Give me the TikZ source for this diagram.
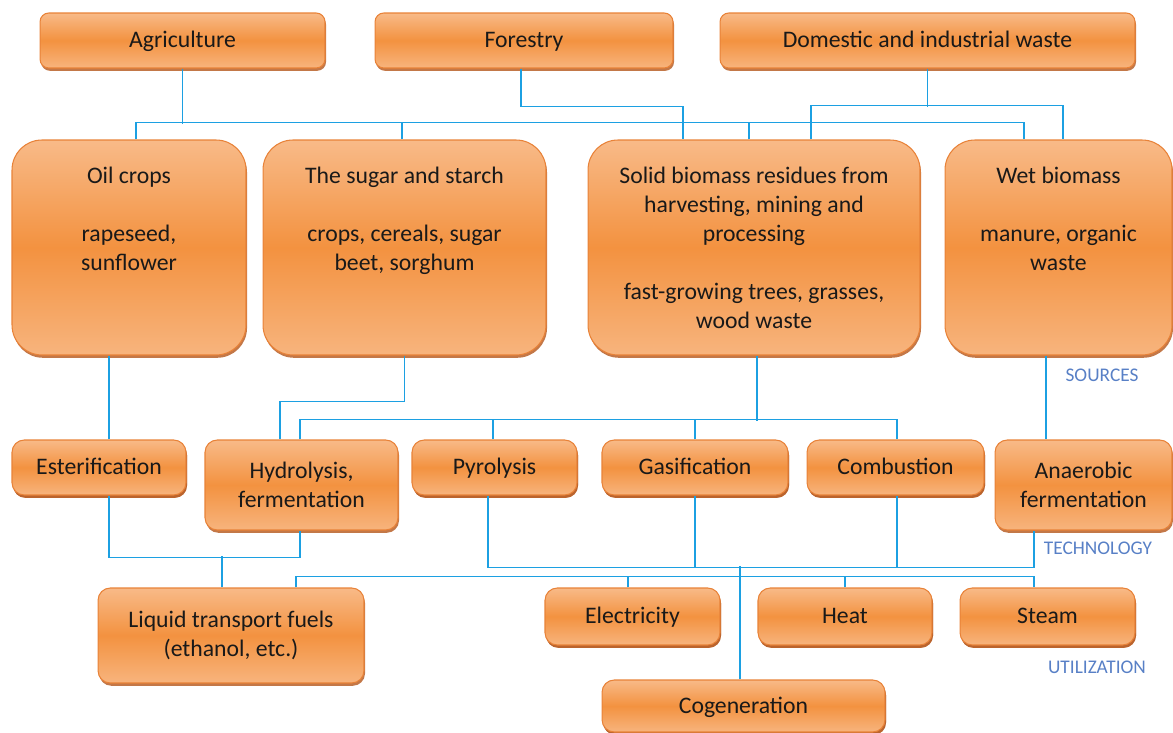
\documentclass[tikz,border=0pt]{standalone}
\usepackage{fontspec}
\setmainfont{Carlito}
\usepackage{tikz}
\usetikzlibrary{shadows}

\definecolor{boxlight}{RGB}{248,186,136}
\definecolor{boxmid}{RGB}{243,146,64}
\definecolor{boxedge}{RGB}{232,130,56}
\definecolor{boxshade}{RGB}{185,96,40}
\definecolor{linkblue}{RGB}{28,160,226}
\definecolor{tagblue}{RGB}{88,128,198}

\tikzset{
  box/.style={draw=boxedge, line width=0.6pt, rounded corners=5pt,
    top color=boxlight, bottom color=boxlight!85!boxmid, middle color=boxmid,
    drop shadow={shadow xshift=0.6pt, shadow yshift=-1.6pt, fill=boxshade, opacity=0.85},
    align=center, inner sep=2pt, text=black!90,
    font=\fontsize{13.5}{16.5}\selectfont},
  onebox/.style={box, text height=2ex, text depth=0.3ex},
  bigbox/.style={box, rounded corners=17pt},
  midbox/.style={box, rounded corners=7pt},
  link/.style={draw=linkblue, line width=0.7pt},
  tag/.style={text=tagblue, font=\fontsize{11}{13}\selectfont}
}

\begin{document}
\begin{tikzpicture}[x=0.02cm, y=-0.02cm]
    \useasboundingbox (0,0) rectangle (1173,733);

    % sources
    \node[onebox, minimum width=5.7cm, minimum height=1.1cm] (agri) at (182.5,40.5) {Agriculture};
    \node[onebox, minimum width=5.96cm, minimum height=1.1cm] (forest) at (524,40.5) {Forestry};
    \node[onebox, minimum width=8.3cm, minimum height=1.1cm] (waste) at (927.5,40.5) {Domestic and industrial waste};

    \node[bigbox, minimum width=4.68cm, minimum height=4.3cm] (oil) at (129,247.5)
      {Oil crops\\~\\rapeseed,\\sunflower\\~\\~};
    \node[bigbox, minimum width=5.66cm, minimum height=4.3cm] (sugar) at (404.5,247.5)
      {The sugar and starch\\~\\crops, cereals, sugar\\beet, sorghum\\~\\~};
    \node[bigbox, minimum width=6.64cm, minimum height=4.3cm] (solid) at (754,247.5)
      {Solid biomass residues from\\harvesting, mining and\\processing\\~\\fast-growing trees, grasses,\\wood waste};
    \node[bigbox, minimum width=4.54cm, minimum height=4.3cm] (wet) at (1058.5,247.5)
      {Wet biomass\\~\\manure, organic\\waste\\~\\~};

    % technology
    \node[onebox, midbox, minimum width=3.48cm, minimum height=1.1cm] (ester) at (99,467.5) {Esterification};
    \node[midbox, minimum width=3.86cm, minimum height=1.8cm] (hydro) at (301.5,485) {Hydrolysis,\\fermentation};
    \node[onebox, midbox, minimum width=3.3cm, minimum height=1.1cm] (pyro) at (494.5,467.5) {Pyrolysis};
    \node[onebox, midbox, minimum width=3.72cm, minimum height=1.1cm] (gasi) at (695,467.5) {Gasification};
    \node[onebox, midbox, minimum width=3.54cm, minimum height=1.1cm] (comb) at (895.5,467.5) {Combustion};
    \node[midbox, minimum width=3.54cm, minimum height=1.8cm] (anaer) at (1083.5,485) {Anaerobic\\fermentation};

    % utilization
    \node[midbox, minimum width=5.32cm, minimum height=1.9cm] (liquid) at (231,635.5) {Liquid transport fuels\\(ethanol, etc.)};
    \node[onebox, midbox, minimum width=3.5cm, minimum height=1.14cm] (elec) at (632.5,616.5) {Electricity};
    \node[onebox, midbox, minimum width=3.48cm, minimum height=1.14cm] (heat) at (845,616.5) {Heat};
    \node[onebox, midbox, minimum width=3.5cm, minimum height=1.14cm] (steam) at (1047.5,616.5) {Steam};
    \node[onebox, midbox, minimum width=5.66cm, minimum height=1.04cm] (cogen) at (743.5,706) {Cogeneration};

    \node[tag] (tsrc) at (1102,375) {SOURCES};
    \node[tag] (ttech) at (1098,548) {TECHNOLOGY};
    \node[tag] (tutil) at (1097,667) {UTILIZATION};

    % sources -> raw material
    \draw[link] (agri.south) -- ++(0,55);
    \draw[link] (oil.north -| 136,0) -- ++(0,-17) -| (wet.north -| 1024,0);
    \draw[link] (sugar.north -| 402,0) -- ++(0,-17);
    \draw[link] (solid.north -| 749,0) -- ++(0,-17);
    \draw[link] (forest.south -| 521,0) -- ++(0,38) -| (solid.north -| 683,0);
    \draw[link] (waste.south) -- ++(0,38);
    \draw[link] (solid.north -| 811,0) -- ++(0,-34) -| (wet.north -| 1063,0);

    % raw material -> technology
    \draw[link] (oil.south -| 109,0) -- (ester.north -| 109,0);
    \draw[link] (sugar.south) -- ++(0,46) -| (hydro.north -| 280,0);
    \draw[link] (solid.south -| 757,0) -- ++(0,65);
    \draw[link] (hydro.north -| 300,0) -- ++(0,-20) -| (comb.north -| 897,0);
    \draw[link] (pyro.north -| 493,0) -- ++(0,-20);
    \draw[link] (gasi.north) -- ++(0,-20);
    \draw[link] (wet.south -| 1046,0) -- (anaer.north -| 1046,0);

    % technology -> utilization
    \draw[link] (ester.south -| 109,0) -- ++(0,62) -| (hydro.south -| 300,0);
    \draw[link] (liquid.north -| 222,0) -- ++(0,-31);
    \draw[link] (pyro.south -| 488,0) -- ++(0,72) -| (anaer.south -| 1034,0);
    \draw[link] (gasi.south) -- ++(0,72);
    \draw[link] (comb.south -| 897,0) -- ++(0,72);
    \draw[link] (cogen.north -| 740,0) -- ++(0,-113);
    \draw[link] (liquid.north -| 296,0) -- ++(0,-11) -| (steam.north -| 1034,0);
    \draw[link] (elec.north -| 628,0) -- ++(0,-11);
    \draw[link] (heat.north) -- ++(0,-11);

      % \draw[help lines](0,0) grid (1173,733);
\end{tikzpicture}
\end{document}
